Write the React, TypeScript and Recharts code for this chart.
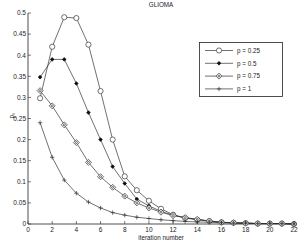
import React from 'react'
import { LineChart, Line, XAxis, YAxis } from 'recharts'

// page has default 8px margin; chart should sit at the corner
if (typeof document !== 'undefined') document.body.style.margin = '0'

const iterations = [1, 2, 3, 4, 5, 6, 7, 8, 9, 10, 11, 12, 13, 14, 15, 16, 17, 18, 19, 20, 21, 22]
const p025 = [0.298, 0.42, 0.49, 0.488, 0.425, 0.315, 0.2, 0.113, 0.08, 0.055, 0.036, 0.022, 0.014, 0.01, 0.007, 0.004, 0.003, 0.002, 0.001, 0.001, 0.001, 0.0]
const p05 = [0.348, 0.39, 0.39, 0.333, 0.264, 0.2, 0.136, 0.096, 0.059, 0.043, 0.03, 0.021, 0.015, 0.011, 0.007, 0.004, 0.003, 0.002, 0.001, 0.001, 0.001, 0.0]
const p075 = [0.316, 0.28, 0.235, 0.193, 0.146, 0.112, 0.087, 0.066, 0.05, 0.038, 0.028, 0.02, 0.015, 0.011, 0.007, 0.004, 0.003, 0.002, 0.001, 0.001, 0.001, 0.0]
const p1 = [0.24, 0.158, 0.104, 0.073, 0.052, 0.038, 0.027, 0.021, 0.016, 0.013, 0.01, 0.008, 0.006, 0.005, 0.004, 0.003, 0.002, 0.002, 0.001, 0.001, 0.001, 0.0]

const xTicks = [0, 2, 4, 6, 8, 10, 12, 14, 16, 18, 20, 22]
const yTicks = [0, 0.05, 0.1, 0.15, 0.2, 0.25, 0.3, 0.35, 0.4, 0.45, 0.5]

const series = [
  { key: 'p025', name: 'p = 0.25', marker: 'circle' },
  { key: 'p05', name: 'p = 0.5', marker: 'star' },
  { key: 'p075', name: 'p = 0.75', marker: 'diamond' },
  { key: 'p1', name: 'p = 1', marker: 'plus' },
]

const data = iterations.map((it, i) => ({
  it,
  p025: p025[i],
  p05: p05[i],
  p075: p075[i],
  p1: p1[i],
}))

const FONT = '"Liberation Sans", Arial, sans-serif'
const INK = '#222'
const LINE = '#333'

const Marker = ({ cx, cy, type }: { cx: number; cy: number; type: string }) => {
  if (type === 'circle')
    return <circle cx={cx} cy={cy} r={2.6} fill="white" stroke={LINE} strokeWidth={0.7} />
  if (type === 'star')
    return (
      <g stroke="#111" strokeWidth={0.8}>
        <circle cx={cx} cy={cy} r={1.3} fill="#111" />
        <line x1={cx - 2} y1={cy} x2={cx + 2} y2={cy} />
        <line x1={cx} y1={cy - 2} x2={cx} y2={cy + 2} />
      </g>
    )
  if (type === 'diamond')
    return (
      <g fill="none" stroke={LINE} strokeWidth={0.7}>
        <path d={`M${cx},${cy - 3}L${cx + 3},${cy}L${cx},${cy + 3}L${cx - 3},${cy}Z`} fill="white" />
        <circle cx={cx} cy={cy} r={1} />
      </g>
    )
  return (
    <g stroke={LINE} strokeWidth={0.7}>
      <line x1={cx - 2.2} y1={cy} x2={cx + 2.2} y2={cy} />
      <line x1={cx} y1={cy - 2.2} x2={cx} y2={cy + 2.2} />
    </g>
  )
}

const fmt = (v: number) => (v === 0 ? '0' : String(+v.toFixed(2)))

// MATLAB style ticks: short marks pointing into the plot box
const BoxTick = (side: string, showText: boolean) => (props: any) => {
  const { x, y, payload } = props
  let mark = null
  if (side === 'bottom') mark = <line x1={x} y1={y} x2={x} y2={y - 3} />
  if (side === 'top') mark = <line x1={x} y1={y} x2={x} y2={y + 3} />
  if (side === 'left') mark = <line x1={x} y1={y} x2={x + 3} y2={y} />
  if (side === 'right') mark = <line x1={x} y1={y} x2={x - 3} y2={y} />
  return (
    <g>
      <g stroke={INK} strokeWidth={0.6}>{mark}</g>
      {showText && side === 'bottom' && (
        <text x={x} y={y + 7.5} textAnchor="middle" fontSize={6.5} fontFamily={FONT} fill={INK}>
          {fmt(payload.value)}
        </text>
      )}
      {showText && side === 'left' && (
        <text x={x - 2} y={y + 2.3} textAnchor="end" fontSize={6.5} fontFamily={FONT} fill={INK}>
          {fmt(payload.value)}
        </text>
      )}
    </g>
  )
}

const LegendBox = () => (
  <svg width={85} height={56} style={{ display: 'block' }}>
    <rect x={0.5} y={0.5} width={83} height={54} fill="white" stroke={INK} strokeWidth={0.8} />
    {series.map((s, i) => {
      const y = 8.5 + i * 12.8
      return (
        <g key={s.key}>
          <line x1={6} y1={y} x2={34} y2={y} stroke={LINE} strokeWidth={0.7} />
          <Marker cx={20} cy={y} type={s.marker} />
          <text x={38} y={y + 2.2} fontSize={6.3} fontFamily={FONT} fill={INK}>
            {s.name}
          </text>
        </g>
      )
    })}
  </svg>
)

export default function App() {
  return (
    <div style={{ position: 'relative', width: 300, height: 241, background: 'white' }}>
      <LineChart width={300} height={241} data={data} margin={{ top: 13, right: 6, left: 0, bottom: 0 }}>
        <XAxis
          xAxisId="b"
          dataKey="it"
          type="number"
          domain={[0, 22]}
          ticks={xTicks}
          height={17}
          tickSize={0}
          tickMargin={0}
          stroke={INK}
          strokeWidth={0.8}
          tick={BoxTick('bottom', true)}
          interval={0}
          label={{
            value: 'iteration number',
            position: 'insideBottom',
            offset: 1,
            fontSize: 6.3,
            fontFamily: FONT,
            fill: INK,
          }}
        />
        <XAxis
          xAxisId="t"
          dataKey="it"
          type="number"
          orientation="top"
          domain={[0, 22]}
          ticks={xTicks}
          height={0}
          tickSize={0}
          tickMargin={0}
          stroke={INK}
          strokeWidth={0.8}
          tick={BoxTick('top', false)}
          interval={0}
        />
        <YAxis
          yAxisId="l"
          type="number"
          domain={[0, 0.5]}
          ticks={yTicks}
          width={28}
          tickSize={0}
          tickMargin={0}
          stroke={INK}
          strokeWidth={0.8}
          tick={BoxTick('left', true)}
          interval={0}
          label={{
            value: 'pₛ',
            angle: -90,
            position: 'insideLeft',
            offset: 12,
            fontSize: 6.5,
            fontFamily: FONT,
            fill: INK,
          }}
        />
        <YAxis
          yAxisId="r"
          orientation="right"
          type="number"
          domain={[0, 0.5]}
          ticks={yTicks}
          width={0}
          tickSize={0}
          tickMargin={0}
          stroke={INK}
          strokeWidth={0.8}
          tick={BoxTick('right', false)}
          interval={0}
        />
        {series.map((s) => (
          <Line
            key={s.key}
            xAxisId="b"
            yAxisId="l"
            dataKey={s.key}
            name={s.name}
            type="linear"
            stroke={LINE}
            strokeWidth={0.7}
            isAnimationActive={false}
            dot={(p: any) => <Marker key={`${s.key}-${p.index}`} cx={p.cx} cy={p.cy} type={s.marker} />}
            activeDot={false}
          />
        ))}
      </LineChart>
      <div
        style={{
          position: 'absolute',
          left: 0,
          top: 1,
          width: 322,
          textAlign: 'center',
          fontSize: 6.3,
          fontFamily: FONT,
          color: INK,
          lineHeight: '8px',
        }}
      >
        GLIOMA
      </div>
      <div style={{ position: 'absolute', left: 199, top: 42 }}>
        <LegendBox />
      </div>
    </div>
  )
}
